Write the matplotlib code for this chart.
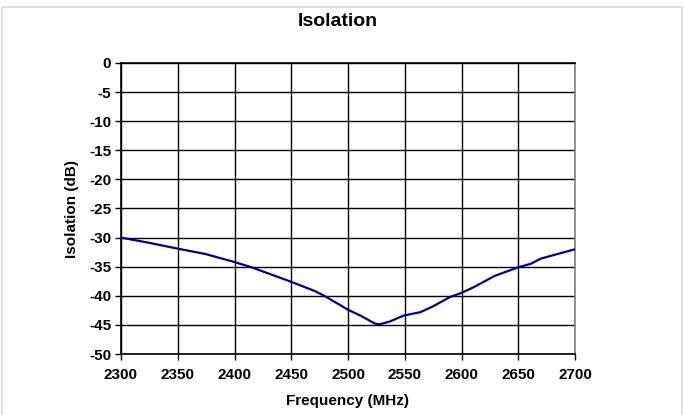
import matplotlib
matplotlib.use("Agg")
import matplotlib.pyplot as plt
from matplotlib.patches import Rectangle

# isolation curve
freq_mhz = [2300, 2325, 2350, 2374, 2400, 2415, 2436, 2450, 2471, 2480, 2494,
            2500, 2511, 2524, 2528, 2537, 2549, 2564, 2575, 2590, 2600, 2611,
            2629, 2650, 2661, 2670, 2685, 2700]
isolation_db = [-30.0, -30.9, -31.9, -32.8, -34.2, -35.1, -36.6, -37.6, -39.2, -40.1, -41.7,
                -42.4, -43.4, -44.8, -44.9, -44.4, -43.4, -42.8, -41.8, -40.2, -39.5, -38.5,
                -36.6, -35.1, -34.5, -33.6, -32.8, -32.0]

x_ticks = list(range(2300, 2701, 50))
y_ticks = list(range(-50, 1, 5))

plt.rcParams["font.family"] = ["Liberation Sans", "DejaVu Sans"]
plt.rcParams["axes.unicode_minus"] = False

fig = plt.figure(figsize=(6.84, 4.15), dpi=100)
ax = fig.add_axes([121 / 684, 1 - 354 / 415, (575 - 121) / 684, (354 - 63) / 415])

# light chart-area frame
fig.patches.append(Rectangle((1.5 / 684, -0.05), 680.5 / 684, 1 - 7.5 / 415 + 0.05,
                             transform=fig.transFigure, fill=False,
                             edgecolor="#d9d9d9", linewidth=1.2))

ax.plot(freq_mhz, isolation_db, color="#000080", linewidth=1.6, zorder=3)

ax.set_xlim(2300, 2700)
ax.set_ylim(-50, 0)
ax.set_xticks(x_ticks)
ax.set_yticks(y_ticks)
ax.set_axisbelow(True)
ax.grid(True, color="black", linewidth=1.0)

for lab in ax.get_xticklabels() + ax.get_yticklabels():
    lab.set_fontweight("bold")
ax.tick_params(axis="both", labelsize=11, length=4, width=1.0, color="black", direction="out")
ax.tick_params(axis="x", pad=6)
ax.tick_params(axis="y", pad=3)

ax.spines["left"].set_color("black")
ax.spines["bottom"].set_color("black")
ax.spines["top"].set_color("black")
ax.spines["right"].set_color("#808080")
for s in ax.spines.values():
    s.set_linewidth(1.2)

ax.set_xlabel("Frequency (MHz)", fontsize=11, fontweight="bold", labelpad=9)
ax.set_ylabel("Isolation (dB)", fontsize=11, fontweight="bold", labelpad=7)
fig.text(338 / 684, 1 - 21.5 / 415, "Isolation", ha="center", va="center",
         fontsize=14, fontweight="bold")

fig.savefig("out.png", dpi=100)
